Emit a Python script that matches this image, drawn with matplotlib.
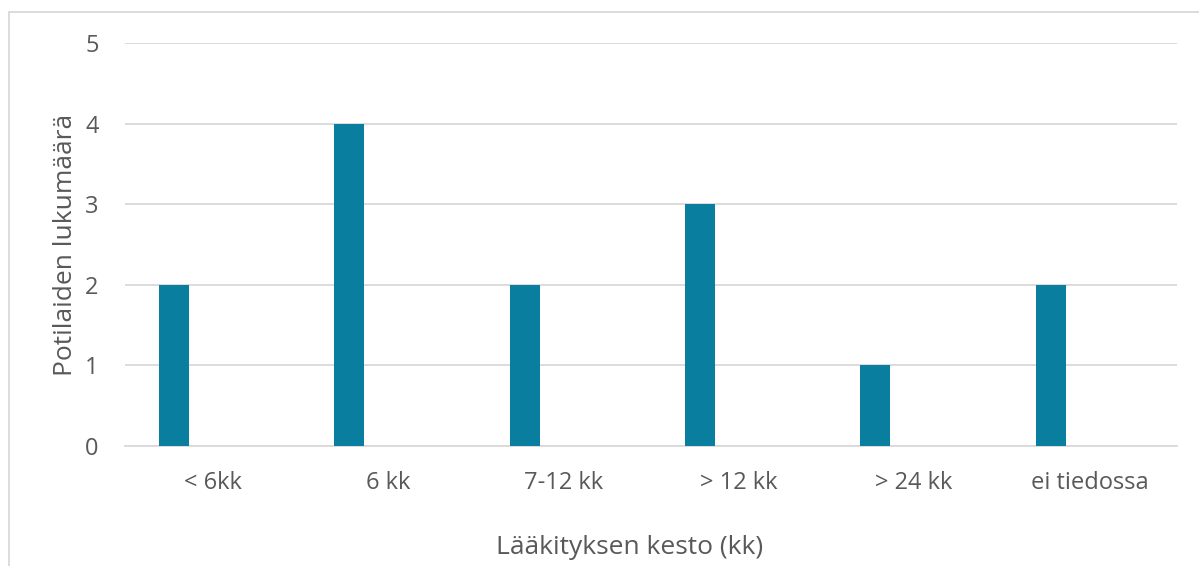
import matplotlib.pyplot as plt
from matplotlib.patches import Rectangle

# Potilaiden lukumäärä lääkityksen keston mukaan
categories = ["< 6kk", "6 kk", "7-12 kk", "> 12 kk", "> 24 kk", "ei tiedossa"]
counts = [2, 4, 2, 3, 1, 2]
y_ticks = [0, 1, 2, 3, 4, 5]

plt.rcParams['font.family'] = ['Open Sans', 'DejaVu Sans']

fig = plt.figure(figsize=(11.99, 5.66), dpi=100)
ax = fig.add_axes([125 / 1199, 1 - 446 / 566, 1052 / 1199, 403 / 566])

x = list(range(len(categories)))
bar_x = [i - 0.22 for i in x]
ax.bar(bar_x, counts, width=0.171, color="#0A7E9E", zorder=3)

ax.set_xlim(-0.5, len(categories) - 0.5)
ax.set_ylim(0, 5)
ax.set_yticks(y_ticks)
ax.set_xticks(x)
ax.set_xticklabels(categories)
ax.grid(axis="y", color="#D9D9D9", linewidth=1.3, zorder=0)
ax.tick_params(axis="both", length=0, labelsize=17, labelcolor="#595959")
ax.tick_params(axis="y", pad=19)
ax.tick_params(axis="x", pad=18)
for side in ["top", "right", "left"]:
    ax.spines[side].set_visible(False)
ax.spines["bottom"].set_color("#D9D9D9")
ax.spines["bottom"].set_linewidth(1.3)

ax.set_ylabel("Potilaiden lukumäärä", fontsize=19, color="#595959", labelpad=5)
ax.set_xlabel("Lääkityksen kesto (kk)", fontsize=19, color="#595959")
ax.xaxis.set_label_coords(0.48, -0.22)

# kehys kaavion ympärillä
fig.patches.append(Rectangle((9 / 1199, -0.1), 1.2, 1 - 12 / 566 + 0.1,
                             transform=fig.transFigure, fill=False,
                             edgecolor="#D9D9D9", linewidth=1.3))

fig.savefig("out.png", dpi=100)
